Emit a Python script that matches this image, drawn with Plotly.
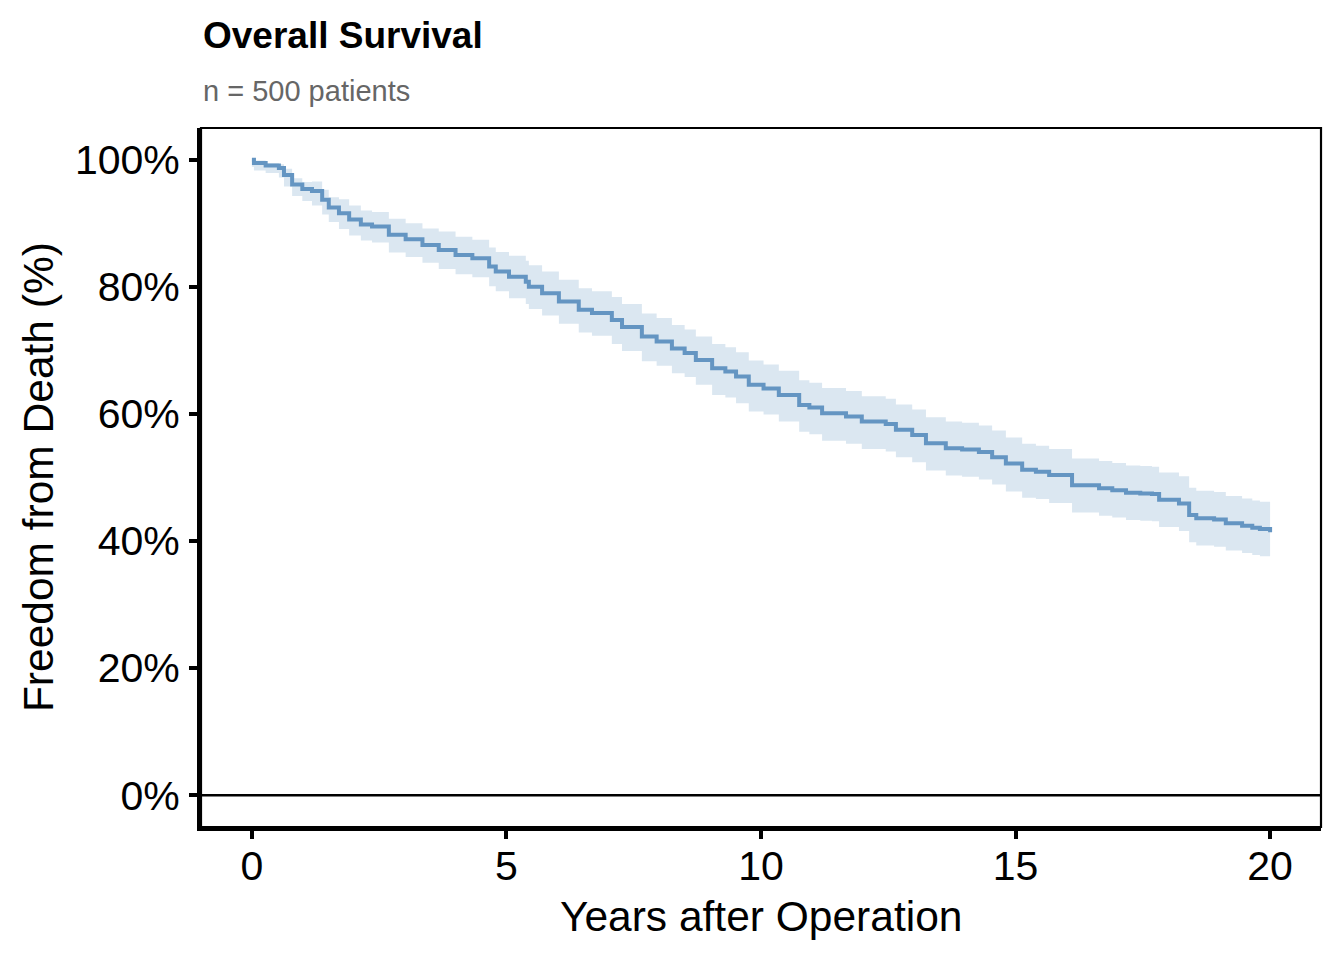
import plotly.graph_objects as go

# Kaplan-Meier estimate (years, % surviving)
time_years = [0.00, 0.04, 0.27, 0.53, 0.63, 0.79, 0.99, 1.18, 1.38, 1.51, 1.71, 1.91, 2.14, 2.36,
              2.69, 3.02, 3.35, 3.67, 4.00, 4.33, 4.66, 4.79, 5.05, 5.38, 5.44, 5.70, 6.03, 6.42,
              6.68, 7.07, 7.27, 7.66, 7.95, 8.25, 8.50, 8.72, 9.04, 9.30, 9.51, 9.76, 10.05,
              10.35, 10.75, 10.95, 11.20, 11.67, 11.98, 12.45, 12.65, 12.97, 13.24, 13.63, 13.95,
              14.28, 14.54, 14.81, 15.13, 15.40, 15.66, 16.11, 16.64, 16.90, 17.17, 17.45, 17.68,
              17.82, 18.21, 18.41, 18.55, 18.90, 19.13, 19.45, 19.65, 19.80, 20.00]
survival = [100.0, 99.5, 99.1, 98.7, 97.6, 96.1, 95.4, 95.1, 93.7, 92.5, 91.6, 90.6, 89.8, 89.5,
            88.2, 87.5, 86.6, 85.8, 85.0, 84.5, 83.2, 82.4, 81.6, 80.8, 80.0, 79.0, 77.7, 76.4,
            75.9, 74.8, 73.7, 72.2, 71.4, 70.3, 69.6, 68.5, 67.2, 66.7, 65.9, 64.6, 64.0,
            63.0, 61.4, 61.0, 60.1, 59.6, 58.8, 58.4, 57.5, 56.7, 55.4, 54.6, 54.4,
            54.0, 53.2, 52.2, 51.2, 50.9, 50.4, 48.8, 48.3, 48.0, 47.6, 47.5, 47.4,
            46.5, 45.9, 44.1, 43.6, 43.4, 42.8, 42.4, 42.1, 41.9, 41.4]
ci_upper = [100.0, 99.9, 99.5, 99.3, 98.6, 97.1, 96.5, 96.6, 95.3, 94.1, 93.8, 92.8, 92.0, 91.8,
            90.7, 90.0, 89.2, 88.7, 87.9, 87.4, 86.2, 85.5, 84.9, 84.1, 83.4, 82.4, 81.1, 79.8,
            79.3, 78.4, 77.3, 75.8, 75.1, 74.0, 73.3, 72.2, 71.0, 70.5, 69.7, 68.4, 67.8,
            66.8, 65.3, 64.9, 64.1, 63.6, 62.8, 62.4, 61.5, 60.7, 59.5, 58.8, 58.6,
            58.2, 57.4, 56.3, 55.3, 55.0, 54.5, 53.0, 52.6, 52.3, 51.9, 51.8, 51.7,
            50.8, 50.2, 48.4, 47.9, 47.7, 47.1, 46.7, 46.4, 46.2, 45.7]
ci_lower = [98.9, 98.3, 97.9, 97.2, 95.8, 94.3, 93.5, 92.8, 91.4, 90.2, 89.1, 88.1, 87.3, 87.0,
            85.4, 84.7, 83.8, 82.8, 82.0, 81.5, 80.1, 79.3, 78.2, 77.3, 76.5, 75.5, 74.2, 72.8,
            72.3, 71.0, 69.9, 68.3, 67.6, 66.4, 65.8, 64.6, 63.0, 62.6, 61.7, 60.4, 59.9,
            58.8, 57.2, 56.8, 55.8, 55.3, 54.5, 54.1, 53.2, 52.4, 51.1, 50.3, 50.1,
            49.7, 48.9, 47.8, 46.8, 46.6, 46.0, 44.5, 44.0, 43.7, 43.3, 43.2, 43.1,
            42.2, 41.6, 39.8, 39.3, 39.1, 38.5, 38.1, 37.8, 37.6, 37.1]

x_ticks = [0, 5, 10, 15, 20]
x_tick_labels = ["0", "5", "10", "15", "20"]
y_ticks = [0, 20, 40, 60, 80, 100]
y_tick_labels = ["0%", "20%", "40%", "60%", "80%", "100%"]

title_text = "Overall Survival"
subtitle_text = "n = 500 patients"
x_title = "Years after Operation"
y_title = "Freedom from Death (%)"

FONT = "Liberation Sans"
LINE_COLOR = "rgb(100,149,194)"
BAND_COLOR = "rgb(219,231,241)"

fig = go.Figure()
fig.add_trace(go.Scatter(x=time_years, y=ci_lower, mode="lines", line=dict(width=0, shape="hv"),
                         hoverinfo="skip", showlegend=False))
fig.add_trace(go.Scatter(x=time_years, y=ci_upper, mode="lines", line=dict(width=0, shape="hv"),
                         fill="tonexty", fillcolor=BAND_COLOR, hoverinfo="skip", showlegend=False))
fig.add_trace(go.Scatter(x=time_years, y=survival, mode="lines",
                         line=dict(color=LINE_COLOR, width=4, shape="hv"), showlegend=False))

axis_common = dict(showgrid=False, zeroline=False, showline=True, linecolor="black", linewidth=4,
                   ticks="outside", ticklen=8, tickwidth=3.5, tickcolor="black",
                   tickfont=dict(family=FONT, size=41, color="black"))

fig.update_layout(
    width=1344, height=960,
    margin=dict(l=193, r=31, t=120, b=141),
    paper_bgcolor="white", plot_bgcolor="white",
    showlegend=False,
    xaxis=dict(range=[-1, 21], tickvals=x_ticks, ticktext=x_tick_labels, ticklabelstandoff=-8,
               **axis_common),
    yaxis=dict(range=[-5, 105], tickvals=y_ticks, ticktext=y_tick_labels, ticklabelstandoff=1,
               **axis_common),
    shapes=[
        dict(type="rect", xref="paper", yref="paper", x0=0, x1=1, y0=0, y1=1,
             line=dict(color="black", width=2.2), layer="above"),
        dict(type="line", xref="paper", yref="y", x0=0, x1=1, y0=0, y1=0,
             line=dict(color="black", width=2.5), layer="above"),
    ],
    annotations=[
        dict(text=f"<b>{title_text}</b>", xref="paper", yref="paper", x=0.0, y=1.132,
             xanchor="left", yanchor="middle", showarrow=False,
             font=dict(family=FONT, size=37, color="black")),
        dict(text=subtitle_text, xref="paper", yref="paper", x=0.0, y=1.053,
             xanchor="left", yanchor="middle", showarrow=False,
             font=dict(family=FONT, size=29, color="#666666")),
        dict(text=x_title, xref="paper", yref="paper", x=0.5, y=-0.128,
             xanchor="center", yanchor="middle", showarrow=False,
             font=dict(family=FONT, size=42.5, color="black")),
        dict(text=y_title, xref="paper", yref="paper", x=-0.145, y=0.5, textangle=-90,
             xanchor="center", yanchor="middle", showarrow=False,
             font=dict(family=FONT, size=42.5, color="black")),
    ],
)

fig.write_html("out.html")
